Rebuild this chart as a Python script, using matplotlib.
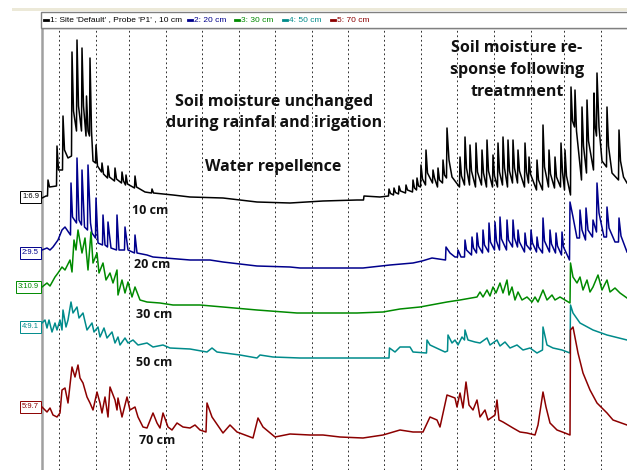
import matplotlib.pyplot as plt
from matplotlib.patches import Rectangle
from matplotlib.lines import Line2D

# Sondas de humedad del suelo (valor del cursor a la izquierda).
depths = ['10 cm', '20 cm', '30 cm', '50 cm', '70 cm']
cursor_vals = [6.9, 9.5, 10.9, 9.1, 9.7]
legend_labels = ["1: Site 'Default' , Probe 'P1' , 10 cm", "2: 20 cm", "3: 30 cm", "4: 50 cm", "5: 70 cm"]

# Líneas semanales (días).
week_days = [3.4, 10.8, 17.4, 24.8, 32.0, 39.4, 46.6, 54.0, 61.2, 68.4, 75.8, 83.0, 90.4, 97.8, 104.4, 111.8]

# Lecturas (día, humedad %) por profundidad.
d10 = [(0.0, 6.8), (0.8, 7.0), (1.1, 7.0), (1.2, 8.6), (1.5, 7.9), (2.9, 8.0), (3.0, 12.0), (3.3, 9.6), (4.1, 9.6),
       (4.2, 15.0), (4.5, 11.6), (5.2, 10.8), (5.9, 11.0), (6.0, 21.4), (6.3, 15.5), (6.9, 13.5), (7.0, 22.6),
       (7.3, 16.0), (7.9, 13.5), (8.0, 21.8), (8.3, 16.0), (8.8, 13.0), (8.9, 17.0), (9.2, 13.5), (9.5, 13.0),
       (9.6, 20.8), (9.9, 13.5), (10.2, 10.5), (10.7, 10.3), (10.8, 12.1), (11.1, 10.0), (11.9, 9.4), (12.0, 10.3),
       (12.3, 9.2), (13.1, 8.8), (13.2, 10.0), (13.5, 8.9), (14.5, 8.5), (14.6, 9.8), (14.9, 8.7), (15.9, 8.3),
       (16.0, 9.4), (16.3, 8.5), (16.7, 8.1), (16.8, 9.1), (17.1, 8.2), (18.5, 7.8), (18.6, 9.0), (18.9, 7.9),
       (20.6, 7.4), (21.9, 7.3), (22.0, 7.7), (22.3, 7.3), (26.2, 7.1), (29.6, 6.9), (36.2, 6.8), (39.6, 6.6),
       (43.0, 6.4), (49.6, 6.3), (56.2, 6.5), (63.0, 6.6), (64.3, 6.6), (64.4, 7.0), (67.6, 6.9), (69.3, 7.0),
       (69.4, 7.7), (69.7, 7.25), (70.3, 7.1), (70.4, 7.8), (70.7, 7.35), (71.3, 7.2), (71.4, 8.0), (71.7, 7.5),
       (72.7, 7.3), (72.8, 8.1), (73.1, 7.6), (74.1, 7.4), (74.2, 8.6), (74.5, 7.8), (74.9, 7.6), (75.0, 8.8),
       (75.3, 8.0), (75.7, 7.9), (75.8, 10.1), (76.1, 8.7), (76.7, 8.1), (76.8, 11.6), (77.1, 9.3), (78.1, 8.3),
       (78.2, 9.6), (78.5, 8.8), (79.1, 7.9), (79.2, 9.8), (79.5, 8.6), (80.1, 8.3), (80.2, 10.6), (80.5, 9.1),
       (80.9, 8.8), (81.0, 13.8), (81.4, 10.6), (82.0, 8.9), (83.5, 7.9), (83.6, 10.9), (83.9, 9.0), (84.5, 8.1),
       (84.6, 12.9), (84.9, 9.8), (85.5, 8.1), (85.6, 12.1), (85.9, 9.5), (86.7, 7.9), (86.8, 12.3), (87.1, 9.4),
       (87.9, 8.1), (88.0, 11.6), (88.3, 9.3), (88.9, 7.9), (89.0, 12.6), (89.3, 9.5), (90.1, 7.9), (90.2, 11.1),
       (90.5, 9.0), (91.1, 7.9), (91.2, 12.3), (91.5, 9.4), (92.1, 8.1), (92.2, 12.9), (92.5, 9.8), (93.1, 7.9),
       (93.2, 12.6), (93.5, 9.5), (94.1, 8.3), (94.2, 12.6), (94.5, 9.8), (95.1, 8.3), (95.2, 11.6), (95.5, 9.5),
       (96.5, 7.9), (96.6, 12.3), (96.9, 9.4), (97.3, 8.3), (97.4, 10.9), (97.7, 9.2), (98.9, 7.6), (99.0, 10.6),
       (99.3, 8.6), (100.1, 7.6), (100.2, 14.1), (100.5, 9.9), (101.3, 7.9), (101.4, 11.6), (101.7, 9.2),
       (102.5, 7.8), (102.6, 10.9), (102.9, 8.9), (103.7, 7.9), (103.8, 12.3), (104.1, 9.4), (104.5, 7.6),
       (104.6, 11.6), (104.9, 9.0), (105.7, 7.1), (105.8, 17.9), (106.1, 14.5), (106.5, 13.9), (106.6, 17.6),
       (106.9, 13.5), (107.9, 8.6), (108.0, 15.9), (108.3, 12.0), (108.9, 9.3), (109.0, 16.6), (109.3, 12.5),
       (110.3, 9.6), (110.4, 17.3), (110.6, 14.0), (110.9, 13.0), (111.0, 19.3), (111.4, 13.9), (112.0, 10.5),
       (112.9, 9.9), (113.0, 15.9), (113.3, 12.0), (114.0, 9.3), (115.3, 8.6), (115.4, 13.6), (115.7, 10.5),
       (116.3, 8.9), (117.0, 8.3)]

d20 = [(0.0, 9.8), (1.0, 10.0), (1.6, 9.8), (2.2, 10.1), (3.2, 10.8), (4.0, 11.8), (4.6, 12.1), (5.7, 11.3),
       (5.8, 16.5), (6.1, 13.1), (6.9, 12.5), (7.0, 19.0), (7.4, 12.8), (7.9, 12.3), (8.0, 17.8), (8.5, 12.1),
       (9.1, 11.8), (9.2, 18.3), (9.7, 12.5), (10.0, 11.5), (10.7, 11.0), (10.8, 15.0), (11.2, 10.5), (12.1, 10.3),
       (12.2, 13.3), (12.6, 10.3), (13.1, 10.1), (13.2, 12.6), (13.8, 10.0), (14.9, 9.8), (15.0, 13.3), (15.4, 9.8),
       (16.5, 9.8), (16.6, 12.1), (17.2, 9.8), (18.5, 9.5), (18.6, 11.3), (19.0, 9.5), (21.0, 9.3), (22.2, 9.1),
       (29.6, 8.8), (33.6, 8.8), (36.2, 8.6), (43.0, 8.2), (49.6, 8.1), (51.6, 8.0), (59.6, 8.0), (64.2, 8.0),
       (69.6, 8.3), (74.2, 8.5), (76.0, 8.7), (78.0, 9.0), (80.7, 8.8), (80.8, 10.1), (81.6, 9.5), (82.6, 9.1),
       (83.1, 9.1), (83.2, 9.8), (83.8, 9.1), (84.5, 9.1), (84.6, 10.8), (84.9, 9.8), (85.9, 9.3), (86.0, 11.1),
       (86.3, 10.0), (86.9, 9.5), (87.0, 11.5), (87.3, 10.2), (88.1, 9.5), (88.2, 11.8), (88.5, 10.3), (89.3, 9.6),
       (89.4, 12.5), (89.7, 10.6), (90.5, 9.8), (90.6, 12.6), (90.9, 10.7), (91.5, 9.8), (91.6, 13.1), (91.9, 10.9),
       (92.9, 9.8), (93.0, 12.8), (93.3, 10.8), (94.1, 10.1), (94.2, 12.8), (94.5, 11.0), (95.1, 10.1), (95.2, 11.8),
       (95.5, 10.6), (96.5, 9.6), (96.6, 11.5), (96.9, 10.3), (97.7, 9.8), (97.8, 11.8), (98.1, 10.5), (98.9, 9.6),
       (99.0, 11.1), (99.3, 10.1), (100.1, 9.5), (100.2, 13.0), (100.5, 10.7), (101.5, 9.6), (101.6, 11.8),
       (101.9, 10.4), (102.7, 9.5), (102.8, 11.5), (103.1, 10.2), (103.9, 9.3), (104.0, 11.6), (104.3, 10.1),
       (105.5, 8.8), (105.6, 14.6), (106.2, 13.1), (107.0, 11.0), (107.5, 11.0), (107.6, 13.8), (108.0, 11.8),
       (108.7, 10.8), (108.8, 14.0), (109.2, 11.8), (110.1, 11.1), (110.2, 12.8), (110.9, 11.6), (111.0, 16.5),
       (111.4, 13.5), (112.4, 11.1), (112.9, 11.1), (113.0, 14.1), (113.4, 12.0), (114.6, 10.6), (115.3, 10.6),
       (115.4, 13.0), (115.8, 11.2), (117.0, 9.6)]

d30 = [(0.0, 10.9), (1.0, 11.3), (1.6, 11.0), (2.6, 11.9), (3.2, 12.3), (4.0, 12.9), (4.6, 12.6), (5.6, 13.6),
       (6.0, 12.4), (6.4, 15.6), (6.8, 14.6), (7.2, 16.6), (8.0, 14.3), (8.6, 15.8), (9.2, 12.6), (9.8, 16.4),
       (10.2, 13.3), (11.0, 14.3), (11.4, 12.3), (12.2, 13.3), (12.8, 11.6), (13.6, 12.3), (14.2, 11.3), (15.0, 12.6),
       (15.2, 10.1), (16.0, 11.6), (16.6, 10.3), (17.2, 11.4), (18.0, 9.9), (18.6, 10.9), (19.6, 9.6), (21.0, 9.4),
       (23.6, 9.3), (26.2, 9.1), (31.6, 9.1), (36.2, 8.9), (43.0, 8.6), (51.0, 8.3), (63.0, 8.3), (68.2, 8.4),
       (71.6, 8.7), (75.6, 8.9), (81.0, 9.4), (83.6, 9.6), (87.0, 9.9), (87.6, 10.4), (88.2, 9.9), (89.0, 10.6),
       (89.6, 10.0), (90.2, 10.9), (90.8, 10.3), (91.6, 11.3), (92.2, 10.3), (93.0, 11.6), (93.4, 10.1), (94.0, 10.9),
       (94.6, 9.6), (95.2, 10.4), (96.0, 9.6), (97.0, 9.9), (98.0, 9.4), (98.6, 9.9), (99.2, 9.4), (100.2, 10.6),
       (101.0, 9.6), (102.0, 10.1), (102.6, 9.6), (103.6, 9.9), (104.6, 9.6), (105.6, 9.3), (105.7, 13.3),
       (106.2, 11.9), (107.0, 11.3), (107.6, 11.9), (108.2, 10.6), (109.0, 11.6), (109.6, 10.4), (110.2, 10.9),
       (111.2, 12.1), (112.0, 10.6), (113.0, 11.6), (113.6, 10.4), (114.6, 10.8), (115.6, 10.3), (117.0, 9.8)]

d50 = [(0.0, 9.5), (0.6, 9.8), (1.0, 9.0), (1.4, 9.8), (2.0, 8.6), (2.6, 9.5), (3.0, 8.8), (3.6, 9.8), (4.0, 8.8),
       (4.2, 10.8), (4.8, 9.1), (5.2, 9.8), (5.8, 11.6), (6.2, 10.5), (7.0, 11.1), (7.4, 10.0), (8.2, 10.5),
       (9.0, 8.8), (10.0, 9.5), (10.4, 8.6), (11.2, 9.1), (11.6, 8.1), (12.4, 9.0), (13.0, 8.0), (14.0, 8.6),
       (14.6, 7.5), (15.2, 8.1), (15.6, 7.3), (16.6, 8.0), (17.2, 7.5), (18.2, 7.8), (19.2, 7.3), (21.0, 7.5),
       (22.2, 7.1), (24.2, 7.3), (25.6, 7.0), (29.6, 6.9), (33.0, 6.6), (34.0, 7.0), (35.0, 6.6), (39.6, 6.3),
       (43.0, 6.0), (43.6, 6.3), (46.2, 6.1), (51.6, 6.0), (63.0, 6.0), (69.4, 6.0), (69.5, 7.0), (70.6, 6.6),
       (71.6, 7.1), (73.6, 7.1), (74.2, 6.6), (76.9, 6.5), (77.0, 7.8), (77.6, 7.3), (80.6, 6.6), (81.1, 6.7),
       (81.2, 8.3), (82.0, 7.5), (82.6, 7.8), (83.2, 7.3), (84.0, 8.1), (84.5, 7.8), (84.6, 8.8), (85.2, 7.8),
       (86.6, 7.6), (87.6, 7.5), (89.0, 8.0), (89.6, 7.3), (91.0, 7.8), (91.6, 7.2), (92.6, 7.6), (93.6, 7.0),
       (95.0, 7.3), (96.2, 6.8), (97.6, 7.0), (99.0, 6.5), (100.1, 6.8), (100.2, 9.1), (101.0, 7.3), (102.2, 7.0),
       (104.0, 6.8), (105.6, 6.5), (105.7, 11.3), (106.2, 10.5), (107.6, 9.5), (110.2, 8.8), (113.0, 8.3),
       (117.0, 7.8)]

d70 = [(0.0, 9.7), (1.0, 9.2), (1.6, 9.6), (2.2, 8.9), (3.0, 8.7), (3.6, 9.1), (4.0, 11.4), (4.6, 11.6), (5.2, 10.1),
       (6.0, 13.7), (6.6, 12.7), (7.2, 13.9), (7.6, 12.6), (8.2, 12.1), (9.0, 10.7), (9.6, 10.1), (10.2, 9.4),
       (11.0, 11.2), (11.6, 10.1), (12.0, 9.1), (12.6, 10.7), (13.2, 8.7), (13.6, 11.7), (14.6, 10.4), (15.0, 9.4),
       (15.2, 10.6), (16.0, 8.7), (17.0, 10.7), (17.6, 9.4), (18.6, 9.7), (19.2, 8.7), (20.2, 7.7), (21.0, 7.6),
       (22.2, 9.1), (23.0, 8.1), (23.6, 7.6), (24.2, 9.1), (25.2, 7.7), (26.0, 7.4), (27.0, 8.1), (28.2, 7.7),
       (29.6, 7.6), (30.6, 7.9), (31.6, 7.4), (32.8, 7.2), (33.0, 10.1), (34.0, 8.7), (36.2, 7.1), (37.6, 7.9),
       (39.0, 7.2), (42.2, 6.6), (43.2, 8.6), (44.2, 7.7), (46.6, 6.7), (49.6, 7.0), (53.6, 6.9), (56.2, 6.9),
       (59.6, 6.7), (64.2, 6.6), (68.2, 6.9), (71.6, 7.4), (74.2, 7.2), (76.2, 7.2), (77.6, 8.7), (79.0, 8.4),
       (79.6, 7.7), (81.0, 10.9), (82.6, 10.6), (83.0, 9.7), (83.6, 11.1), (84.2, 9.6), (84.8, 12.2), (85.4, 9.9),
       (86.2, 9.4), (87.0, 10.4), (87.6, 8.7), (88.6, 9.4), (89.2, 8.4), (90.6, 8.9), (91.0, 10.4), (91.4, 8.4),
       (92.2, 8.2), (94.2, 7.6), (95.6, 7.2), (97.0, 7.1), (98.6, 6.9), (99.2, 7.9), (100.2, 11.2), (100.8, 9.7),
       (101.6, 8.1), (103.0, 7.4), (104.6, 7.1), (105.6, 6.9), (105.7, 17.4), (106.2, 17.7), (107.2, 15.1),
       (108.2, 13.1), (109.6, 11.4), (111.0, 10.1), (113.0, 9.1), (114.2, 8.4), (117.0, 7.9)]

series = [d10, d20, d30, d50, d70]

# Estilo: desplazamiento vertical de cada traza y colores.
offsets = [20.4, 12.2, 7.4, 5.2, -3.4]
colors = ['#000000', '#00008c', '#008a00', '#008b8b', '#8c0000']

W, H = 627, 470
fig = plt.figure(figsize=(W / 100, H / 100), dpi=100)

# Franja superior y caja de la leyenda.
fig.patches.append(Rectangle((12 / W, (H - 11) / H), 1 - 12 / W, 3 / H, transform=fig.transFigure,
                             facecolor='#ece9d8', edgecolor='none'))
fig.patches.append(Rectangle((41 / W, (H - 28) / H), 1, 16 / H, transform=fig.transFigure,
                             facecolor='white', edgecolor='#808080', linewidth=1))

ax = fig.add_axes([42 / W, 0, 585 / W, (H - 28) / H])
ax.set_xlim(0, 117)
ax.set_ylim(0, 44.2)
ax.set_xticks([])
ax.set_yticks([])
for s in ['right', 'bottom']:
    ax.spines[s].set_visible(False)
ax.spines['left'].set_color('#a0a0a0')
ax.spines['left'].set_linewidth(1.8)
ax.spines['top'].set_color('#808080')
ax.spines['top'].set_linewidth(1)

for d in week_days:
    ax.axvline(d, color='#222222', linestyle=(0, (2.0, 3.0)), linewidth=0.65, zorder=2)

for data, off, c in zip(series, offsets, colors):
    days = [p[0] for p in data]
    vals = [p[1] + off for p in data]
    ax.plot(days, vals, color=c, linewidth=1.1, zorder=3)

# Etiquetas de valor a la izquierda.
for i, (v, off, c) in enumerate(zip(cursor_vals, offsets, colors)):
    ax.text(-0.6, v + off, f'{i + 1}:{v}', ha='right', va='center', fontsize=5.5, color=c,
            family='Liberation Sans', clip_on=False,
            bbox=dict(boxstyle='square,pad=0.3', facecolor='white', edgecolor=c, linewidth=0.7))

# Leyenda.
leg_x = [44, 188, 235, 283, 331]
for lab, c, x in zip(legend_labels, colors, leg_x):
    fig.add_artist(Line2D([x / W, (x + 4) / W], [(H - 20) / H] * 2, color=c, linewidth=2))
    fig.text((x + 6) / W, (H - 20) / H, lab, color=c, fontsize=6, family='Liberation Sans',
             ha='left', va='center')

# Anotaciones.
bold = dict(family='Open Sans', fontweight='bold', ha='center', va='center', color='#111111', zorder=1)
ax.text(46.4, 36.8, 'Soil moisture unchanged', fontsize=11.5, **bold)
ax.text(46.4, 34.7, 'during rainfal and irigation', fontsize=11.5, **bold)
ax.text(46.2, 30.3, 'Water repellence', fontsize=11.5, **bold)
ax.text(95.0, 42.2, 'Soil moisture re-', fontsize=11.5, **bold)
ax.text(95.0, 40.0, 'sponse following', fontsize=11.5, **bold)
ax.text(95.0, 37.8, 'treatmnent', fontsize=11.5, **bold)

depth_pos = [(21.6, 26.0), (22.0, 20.5), (22.4, 15.6), (22.4, 10.8), (23.0, 3.0)]
for lab, (x, y) in zip(depths, depth_pos):
    ax.text(x, y, lab, fontsize=9, **bold)

fig.savefig('out.png', dpi=100)
